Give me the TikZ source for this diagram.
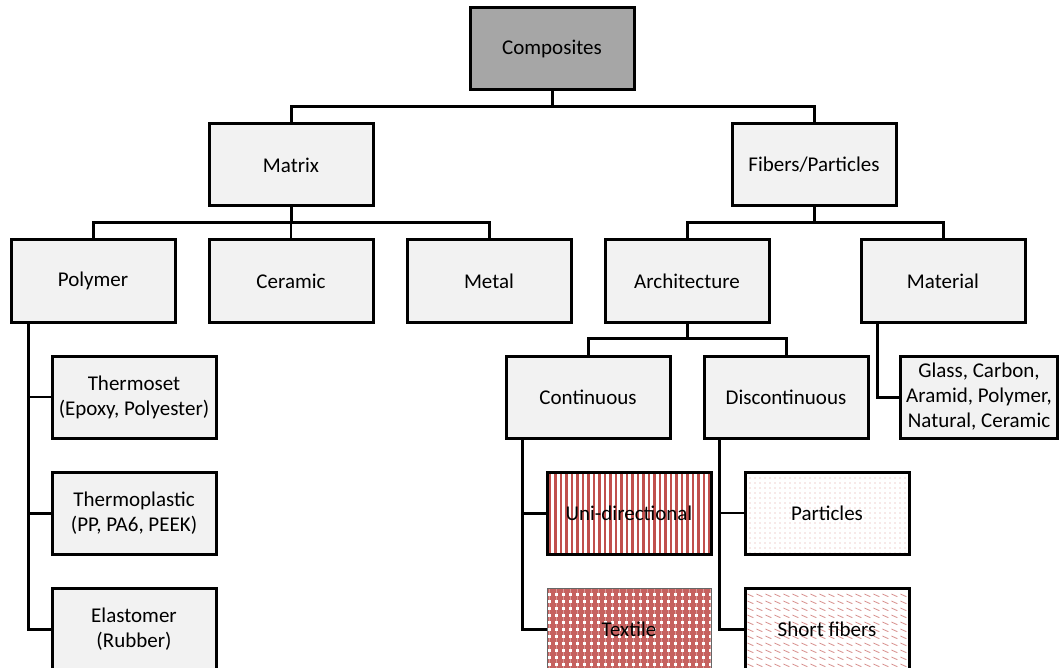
\documentclass[tikz,border=0pt]{standalone}
\usepackage{fontspec}
\setmainfont{Carlito}
\usepackage{xcolor}
\usepackage{tikz}
\usetikzlibrary{positioning, patterns.meta}

\definecolor{boxgray}{RGB}{242,242,242}
\definecolor{rootgray}{RGB}{166,166,166}
\definecolor{fiberred}{RGB}{192,80,77}

% short dashes for the short fibers box
\tikzdeclarepattern{
  name=shortdash,
  type=uncolored,
  bounding box={(0,0) and (9pt,7pt)},
  tile size={(9pt,7pt)},
  code={\draw[line width=0.9pt] (0.5pt,4.5pt) -- (7pt,1.5pt);}
}

\begin{document}
\begin{tikzpicture}[
                node distance=34pt,
                base/.style={rectangle, draw, line width=3pt, minimum width=164pt, minimum height=82pt, inner sep=0pt, outer sep=0pt, align=center, font=\fontsize{21}{25}\selectfont},
                block/.style={base, fill=boxgray},
                root/.style={fill=rootgray},
                patbox/.style={base},
                link/.style={line width=3pt},
                thinlink/.style={line width=1.2pt}
            ]
                \useasboundingbox (0,0) rectangle (1060pt,-668pt);

                % Top levels
                \node[block, root] (comp) at (552pt,-49pt) {Composites};
                \node[block, below=of comp, xshift=-261pt] (matrix) {Matrix};
                \node[block, below=of comp, xshift=262pt] (fibers) {Fibers/Particles};

                % Matrix side
                \node[block, below=of matrix] (ceramic) {Ceramic};
                \node[block, left=of ceramic] (polymer) {Polymer};
                \node[block, right=of ceramic] (metal) {Metal};
                \node[block, below=of polymer, xshift=41pt] (thermoset) {Thermoset\\(Epoxy, Polyester)};
                \node[block, below=of thermoset] (thermoplastic) {Thermoplastic\\(PP, PA6, PEEK)};
                \node[block, below=of thermoplastic] (elastomer) {Elastomer\\(Rubber)};

                % Fiber side
                \node[block, right=of metal] (arch) {Architecture};
                \node[block, right=92pt of arch] (material) {Material};
                \node[block, below=of material, xshift=36pt, minimum width=157pt] (glass) {Glass, Carbon,\\Aramid, Polymer,\\Natural, Ceramic};
                \node[block, below=of arch, xshift=-99pt] (cont) {Continuous};
                \node[block, right=of cont] (discont) {Discontinuous};
                \node[patbox, below=of cont, xshift=41pt, pattern={Lines[angle=90, distance=5.5pt, line width=2.8pt]}, pattern color=fiberred] (uni) {Uni-directional};
                \node[patbox, below=of uni, line width=1pt, draw=black!60, pattern={Hatch[angle=0, distance=7pt, line width=3.4pt]}, pattern color=fiberred!90] (textile) {Textile};
                \node[patbox, right=of uni, pattern={Dots[distance=5pt, radius=0.7pt]}, pattern color=fiberred!55] (particles) {Particles};
                \node[patbox, below=of particles, pattern=shortdash, pattern color=fiberred!65] (short) {Short fibers};

                % Connectors
                \draw[link] (comp.south) -- ++(0,-17pt) -| (matrix.north);
                \draw[link] (comp.south) -- ++(0,-17pt) -| (fibers.north);

                \draw[thinlink] (matrix.south) -- (ceramic.north);
                \draw[link] (matrix.south) -- ++(0,-17pt) -| (polymer.north);
                \draw[link] (matrix.south) -- ++(0,-17pt) -| (metal.north);

                \draw[link] (fibers.south) -- ++(0,-17pt) -| (arch.north);
                \draw[link] (fibers.south) -- ++(0,-17pt) -| (material.north);

                \draw[link] (arch.south) -- ++(0,-16pt) -| (cont.north);
                \draw[link] (arch.south) -- ++(0,-16pt) -| (discont.north);

                \draw[link] ([xshift=-66pt]material.south) |- (glass.west);

                \draw[thinlink] ([xshift=-65pt]polymer.south) |- (thermoset.west);
                \draw[link] ([xshift=-65pt]polymer.south) |- (thermoplastic.west);
                \draw[link] ([xshift=-65pt]polymer.south) |- (elastomer.west);

                \draw[link] ([xshift=-66pt]cont.south) |- (uni.west);
                \draw[link] ([xshift=-66pt]cont.south) |- (textile.west);

                \draw[thinlink] ([xshift=-67pt]discont.south) |- (particles.west);
                \draw[link] ([xshift=-67pt]discont.south) |- (short.west);
            \end{tikzpicture}
\end{document}
